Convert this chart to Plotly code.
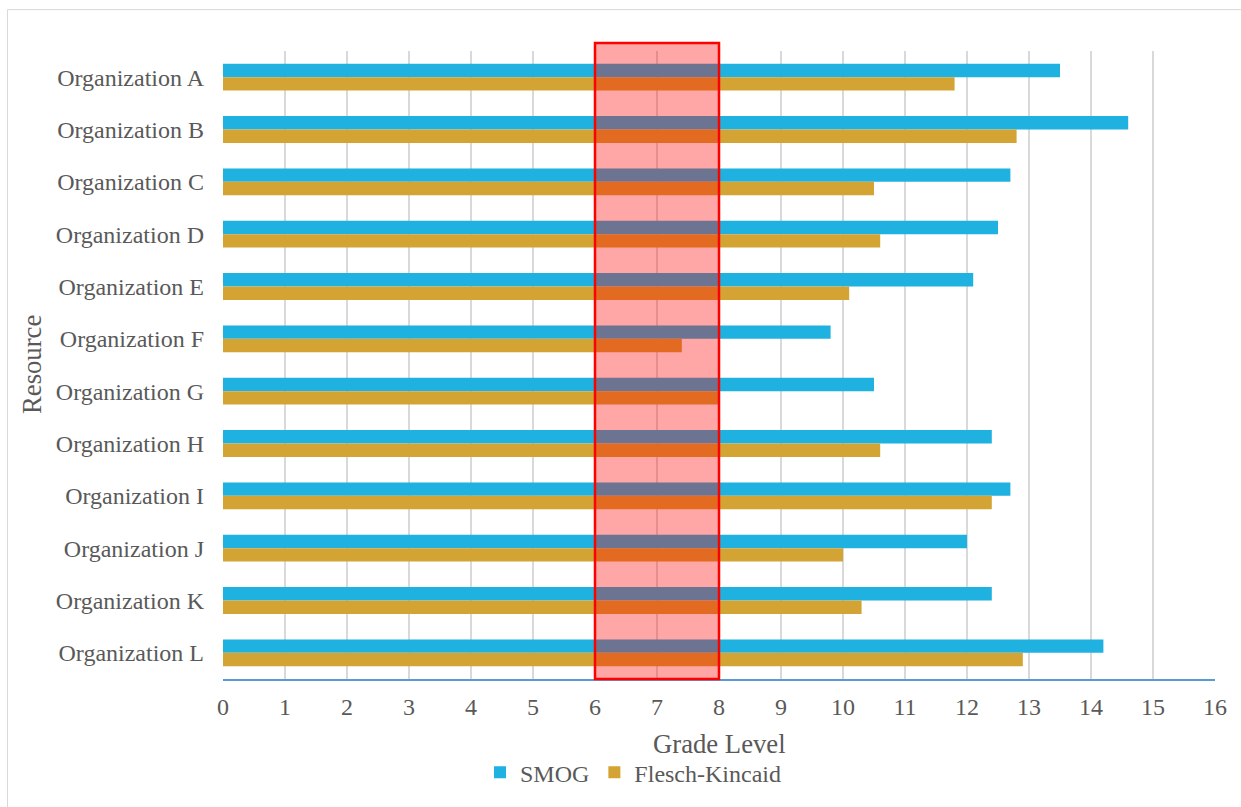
import plotly.graph_objects as go

# Readability grade levels per organisation
organizations = [
    "Organization A", "Organization B", "Organization C", "Organization D",
    "Organization E", "Organization F", "Organization G", "Organization H",
    "Organization I", "Organization J", "Organization K", "Organization L",
]
smog = [13.5, 14.6, 12.7, 12.5, 12.1, 9.8, 10.5, 12.4, 12.7, 12.0, 12.4, 14.2]
flesch_kincaid = [11.8, 12.8, 10.5, 10.6, 10.1, 7.4, 8.0, 10.6, 12.4, 10.0, 10.3, 12.9]
x_ticks = list(range(0, 17))

# Recommended reading band (grade 6-8)
band_low, band_high = 6, 8

FONT = "Liberation Serif, Times New Roman, serif"
TEXT = "#595959"

fig = go.Figure()
fig.add_trace(go.Bar(
    y=organizations, x=smog, name="SMOG", orientation="h",
    marker=dict(color="#1FB2E0", line=dict(width=0)),
))
fig.add_trace(go.Bar(
    y=organizations, x=flesch_kincaid, name="Flesch-Kincaid", orientation="h",
    marker=dict(color="#D3A434", line=dict(width=0)),
))

# Shaded target band with red outline, drawn on top of the bars
fig.add_shape(
    type="rect", xref="x", yref="paper",
    x0=band_low, x1=band_high, y0=0, y1=1.0127,
    fillcolor="rgba(255,0,0,0.35)",
    line=dict(color="#FF0000", width=2.5),
    layer="above",
)

# Chart-area border
fig.add_shape(
    type="rect", xref="paper", yref="paper",
    x0=(7.5 - 223) / 992, x1=(1260 - 223) / 992,
    y0=(681 - 830) / 630, y1=(681 - 9.5) / 630,
    line=dict(color="#D9D9D9", width=1), fillcolor="rgba(0,0,0,0)",
    layer="below",
)

fig.add_annotation(
    text="Grade Level", xref="paper", yref="paper",
    x=0.5, y=(681 - 746) / 630, xanchor="center", yanchor="middle",
    showarrow=False, font=dict(family=FONT, size=26.7, color=TEXT),
)
fig.add_annotation(
    text="Resource", xref="paper", yref="paper",
    x=(32 - 223) / 992, y=0.5, xanchor="center", yanchor="middle",
    textangle=-90, showarrow=False, font=dict(family=FONT, size=26.7, color=TEXT),
)

fig.update_layout(
    width=1241, height=807,
    margin=dict(l=223, r=26, t=51, b=126),
    paper_bgcolor="white", plot_bgcolor="white",
    barmode="group", bargap=0.486, bargroupgap=0,
    font=dict(family=FONT, size=24, color=TEXT),
    showlegend=True,
    legend=dict(
        orientation="h", xref="paper", yref="paper",
        x=(633 - 223) / 992, y=(681 - 775) / 630,
        xanchor="center", yanchor="middle",
        font=dict(family=FONT, size=24, color=TEXT),
        traceorder="normal", itemwidth=30,
    ),
    xaxis=dict(
        range=[0, 16], tickvals=x_ticks, ticktext=[str(v) for v in x_ticks],
        showgrid=True, gridcolor="#D9D9D9", gridwidth=1.5,
        zeroline=False, showline=True, linecolor="#5B9BD5", linewidth=1.5,
        ticks="", ticklabelstandoff=5,
        tickfont=dict(family=FONT, size=24, color=TEXT),
    ),
    yaxis=dict(
        categoryorder="array", categoryarray=organizations,
        autorange="reversed", showgrid=False, zeroline=False, showline=False,
        ticks="", ticklabelstandoff=18,
        tickfont=dict(family=FONT, size=24, color=TEXT),
    ),
)

fig.write_html("out.html")
